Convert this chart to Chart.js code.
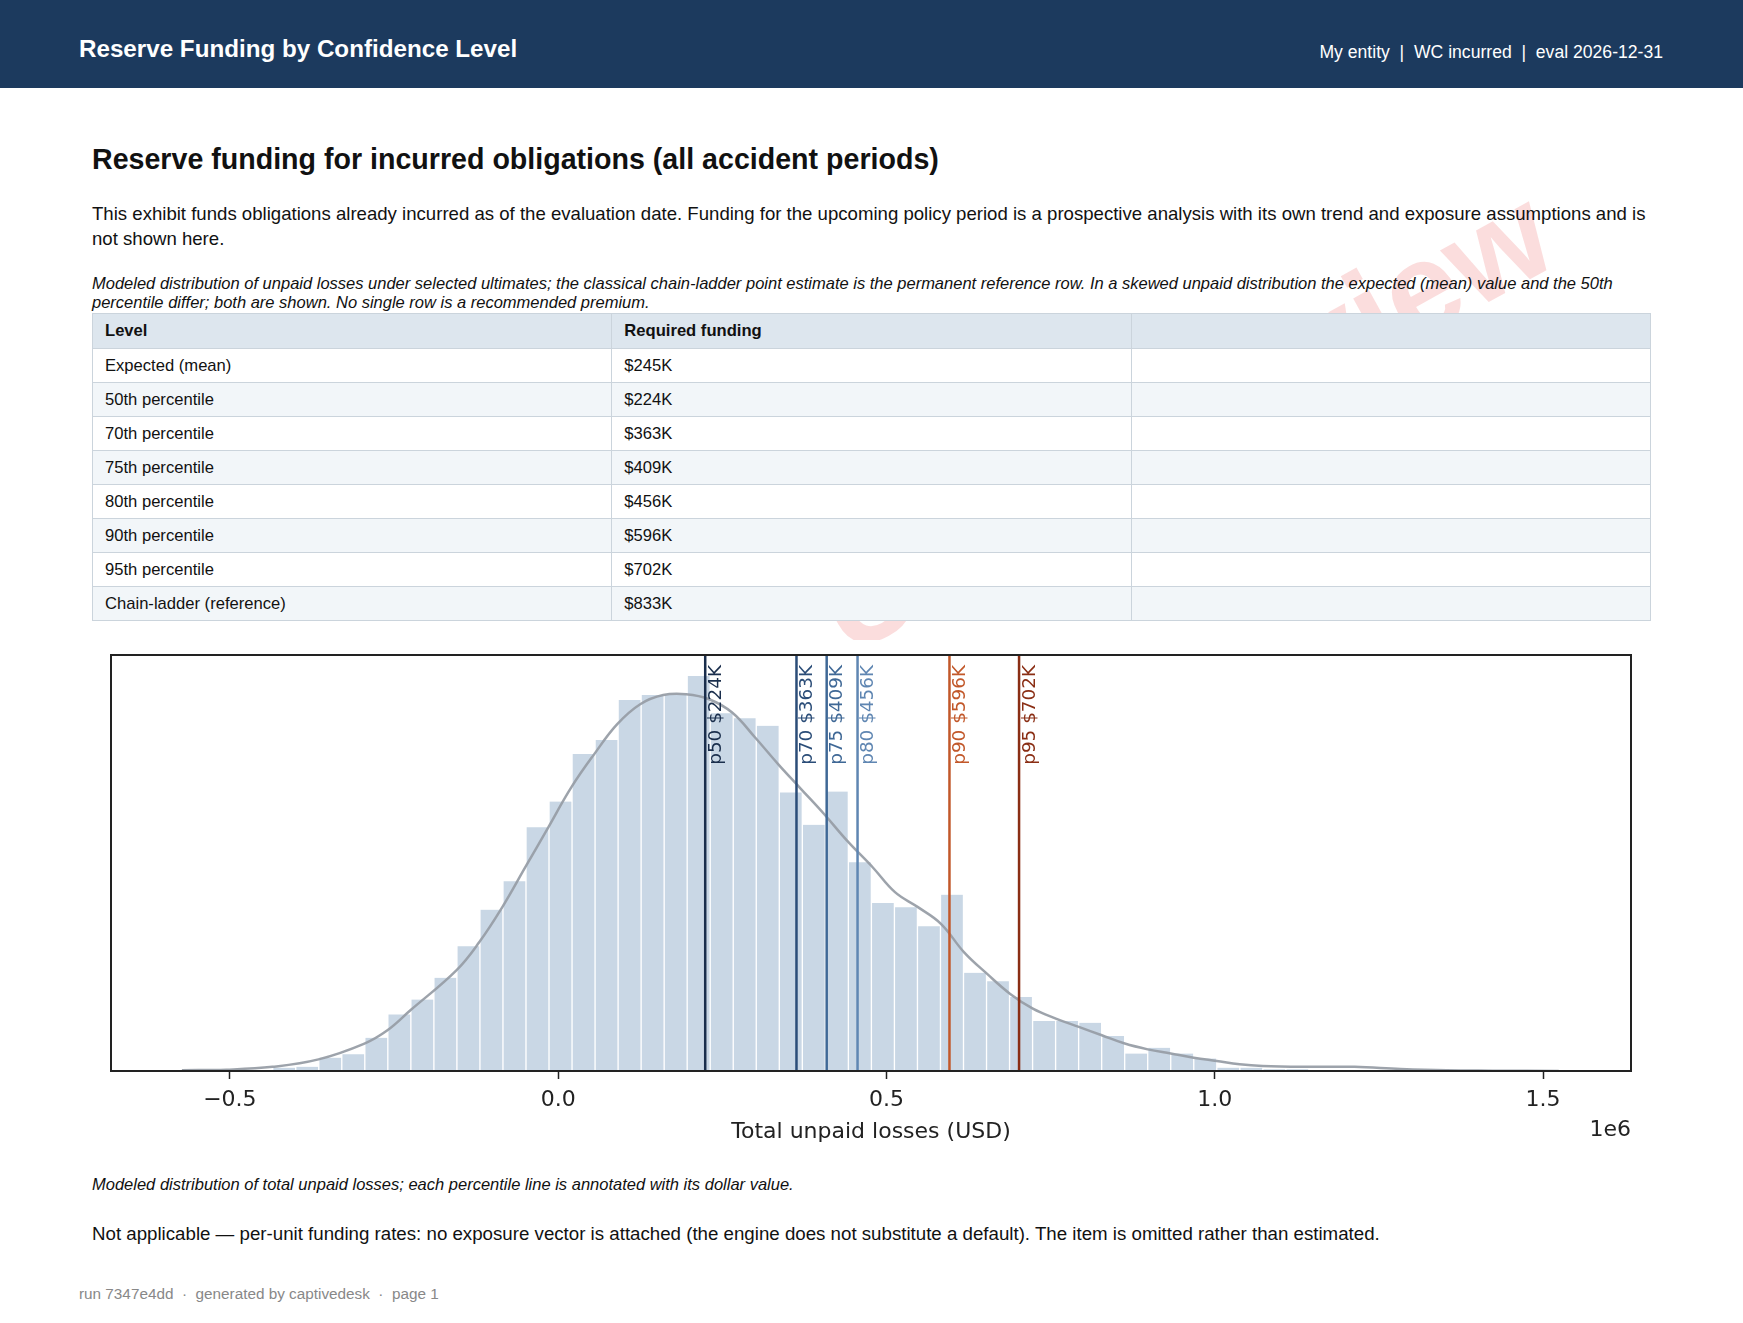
<!DOCTYPE html>
<html><head><meta charset="utf-8">
<script src="https://cdn.jsdelivr.net/npm/chart.js@4.4.1/dist/chart.umd.min.js"></script>
<style>
html,body{margin:0;padding:0;background:#fff;}
body{width:1743px;height:1323px;position:relative;overflow:hidden;font-family:"Liberation Sans",Arial,Helvetica,sans-serif;color:#111;}
.hdr{position:absolute;left:0;top:0;width:1743px;height:88px;background:#1c3a5e;color:#fff;z-index:2;}
.hdr .t{position:absolute;left:79px;top:35px;font-size:24.2px;line-height:28px;font-weight:bold;}
.hdr .m{position:absolute;right:80px;top:42px;font-size:17.6px;line-height:20px;white-space:pre;}
.wm{position:absolute;left:1183px;top:420px;transform:translate(-50%,-50%) rotate(-29deg);font-size:130px;font-weight:bold;color:rgba(232,45,45,0.16);white-space:nowrap;z-index:0;}
.blk{position:absolute;left:92px;width:1560px;z-index:1;}
h2{margin:0;font-size:28.6px;line-height:34px;font-weight:bold;}
.p{font-size:18.6px;line-height:24.5px;}
.note{font-size:16.5px;line-height:19px;font-style:italic;}
table{border-collapse:collapse;width:1559px;table-layout:fixed;font-size:16.6px;}
td,th{border:1px solid #cbd4dc;padding:0 0 0 12px;text-align:left;height:33px;}
th{background:#dde6ee;font-weight:bold;height:34px;}
tr.a td{background:#fff;}
tr.b td{background:#f2f6f9;}
.chartbox{position:absolute;left:92px;top:640px;width:1560px;height:520px;background:#fff;z-index:1;}
.foot{position:absolute;left:79px;top:1285px;font-size:15.3px;color:#888;z-index:1;white-space:pre;}
</style></head>
<body>
<div class="hdr"><div class="t">Reserve Funding by Confidence Level</div><div class="m">My entity  |  WC incurred  |  eval 2026-12-31</div></div>
<div class="wm">Under review</div>
<div class="blk" style="top:142px;"><h2>Reserve funding for incurred obligations (all accident periods)</h2></div>
<div class="blk p" style="top:202px;">This exhibit funds obligations already incurred as of the evaluation date. Funding for the upcoming policy period is a prospective analysis with its own trend and exposure assumptions and is not shown here.</div>
<div class="blk note" style="top:274px;">Modeled distribution of unpaid losses under selected ultimates; the classical chain-ladder point estimate is the permanent reference row. In a skewed unpaid distribution the expected (mean) value and the 50th percentile differ; both are shown. No single row is a recommended premium.</div>
<div class="blk" style="top:313px;"><table id="tbl"><thead><tr><th>Level</th><th>Required funding</th><th></th></tr></thead><tbody></tbody></table></div>
<div class="chartbox"><canvas id="c" width="1560" height="520"></canvas></div>
<div class="blk note" style="top:1175px;">Modeled distribution of total unpaid losses; each percentile line is annotated with its dollar value.</div>
<div class="blk p" style="top:1222px;font-size:18.7px;">Not applicable — per-unit funding rates: no exposure vector is attached (the engine does not substitute a default). The item is omitted rather than estimated.</div>
<div class="foot">run 7347e4dd  ·  generated by captivedesk  ·  page 1</div>
<script>
// ---- table data ----
const levelLabels = ["Expected (mean)","50th percentile","70th percentile","75th percentile","80th percentile","90th percentile","95th percentile","Chain-ladder (reference)"];
const levelFunding = ["$245K","$224K","$363K","$409K","$456K","$596K","$702K","$833K"];

// ---- histogram data (thousand USD) ----
const binStart = -575;      // left edge of first bin
const binWidth = 35.07;     // bin width
const binCounts = [1,1,1,1,4,5,16,20,40,68,86,112,150,194,228,293,324,381,398,446,452,452,475,430,424,415,335,296,336,251,202,197,174,212,118,108,89,60,60,58,42,21,28,21,15,4,4,2,2,1,1,1,1,1,1];

// ---- KDE curve (thousand USD, same count units) ----
const kdeX = [-573,-505,-435,-365,-295,-260,-225,-155,-120,-85,-50,-15,20,55,90,125,160,195,230,265,300,335,370,405,440,479,513,548,583,618,653,688,723,758,793,828,863,898,933,968,1003,1038,1073,1143,1213,1283,1353,1423,1524];
const kdeY = [1,1.6,5,14,33,49,73,121,155,197,245,293,341,381,417,441,452,453,447,431,401,369,339,309,277,245,215,197,177,143,117,93,75,63,53,43,33,26,21,16,12,8,6,5,5,2.4,0.8,0.4,0.1];

// ---- percentile markers (thousand USD) ----
const pctValues = [224,363,409,456,596,702];
const pctLabels = ["p50 $224K","p70 $363K","p75 $409K","p80 $456K","p90 $596K","p95 $702K"];
const pctColors = ["#1a2e4c","#2b4d78","#3f6896","#5f86b2","#c2582a","#8a2e14"];

// ---- axis ----
const xTicks = [-0.5,0.0,0.5,1.0,1.5]; // in 1e6
const xMin = -0.681, xMax = 1.634;      // in 1e6

// build table
const tb = document.querySelector('#tbl tbody');
levelLabels.forEach((l,i)=>{
  const tr=document.createElement('tr'); tr.className = i%2===0?'a':'b';
  tr.innerHTML = '<td>'+l+'</td><td>'+levelFunding[i]+'</td><td></td>';
  tb.appendChild(tr);
});

const barData = binCounts.map((c,i)=>({x:(binStart+(i+0.5)*binWidth)*1000, y:c}));
const kdeData = kdeX.map((x,i)=>({x:x*1000, y:kdeY[i]}));
const yMax = Math.max(...binCounts)*1.053;

const overlay = {
  id:'overlay',
  afterDatasetsDraw(chart){
    const {ctx, chartArea:a, scales:{x}} = chart;
    ctx.save();
    pctValues.forEach((v,i)=>{
      const px = x.getPixelForValue(v*1000);
      ctx.strokeStyle = pctColors[i]; ctx.lineWidth = 2.5;
      ctx.beginPath(); ctx.moveTo(px,a.top); ctx.lineTo(px,a.bottom); ctx.stroke();
      ctx.save();
      ctx.translate(px+1.5, a.top+10);
      ctx.rotate(-Math.PI/2);
      ctx.fillStyle = pctColors[i];
      ctx.font = '18.4px "DejaVu Sans"';
      ctx.textAlign='right'; ctx.textBaseline='top';
      ctx.fillText(pctLabels[i],0,0);
      ctx.restore();
    });
    ctx.restore();
  },
  afterDraw(chart){
    const {ctx, chartArea:a} = chart;
    ctx.save();
    ctx.strokeStyle='#222'; ctx.lineWidth=2;
    ctx.strokeRect(a.left,a.top,a.right-a.left,a.bottom-a.top);
    ctx.fillStyle='#222'; ctx.font='22px "DejaVu Sans"';
    ctx.textAlign='right'; ctx.textBaseline='middle';
    ctx.fillText('1e6', a.right, a.bottom+59);
    ctx.restore();
  }
};

new Chart(document.getElementById('c'), {
  type:'bar',
  data:{datasets:[
    {type:'line', data:kdeData, borderColor:'rgba(152,158,166,0.95)', borderWidth:2.5, pointRadius:0, tension:0.4, fill:false, order:0},
    {type:'bar', data:barData, backgroundColor:'#c9d7e5', borderColor:'#ffffff', borderWidth:{left:1,right:1,top:0,bottom:0}, borderSkipped:false, barPercentage:1, categoryPercentage:1, order:1}
  ]},
  options:{
    responsive:false, animation:false, devicePixelRatio:1,
    layout:{padding:{left:19,right:21,top:15,bottom:0}},
    plugins:{legend:{display:false},tooltip:{enabled:false}},
    scales:{
      x:{type:'linear', min:xMin*1e6, max:xMax*1e6, offset:false,
        afterBuildTicks(s){ s.ticks = xTicks.map(v=>({value:v*1e6})); },
        afterFit(s){ s.height = 89; },
        ticks:{autoSkip:false, maxRotation:0, padding:8, color:'#222', font:{family:'DejaVu Sans', size:22},
          callback:(v)=>(v/1e6).toFixed(1).replace('-','\u2212')},
        grid:{display:true, offset:false, drawOnChartArea:false, drawTicks:true, tickLength:8, tickColor:'#222', tickWidth:1.5},
        border:{display:false},
        title:{display:true, text:'Total unpaid losses (USD)', color:'#222', font:{family:'DejaVu Sans', size:22}, padding:{top:0,bottom:15}}
      },
      y:{display:false, min:0, max:yMax}
    }
  },
  plugins:[overlay]
});
</script>
</body></html>
